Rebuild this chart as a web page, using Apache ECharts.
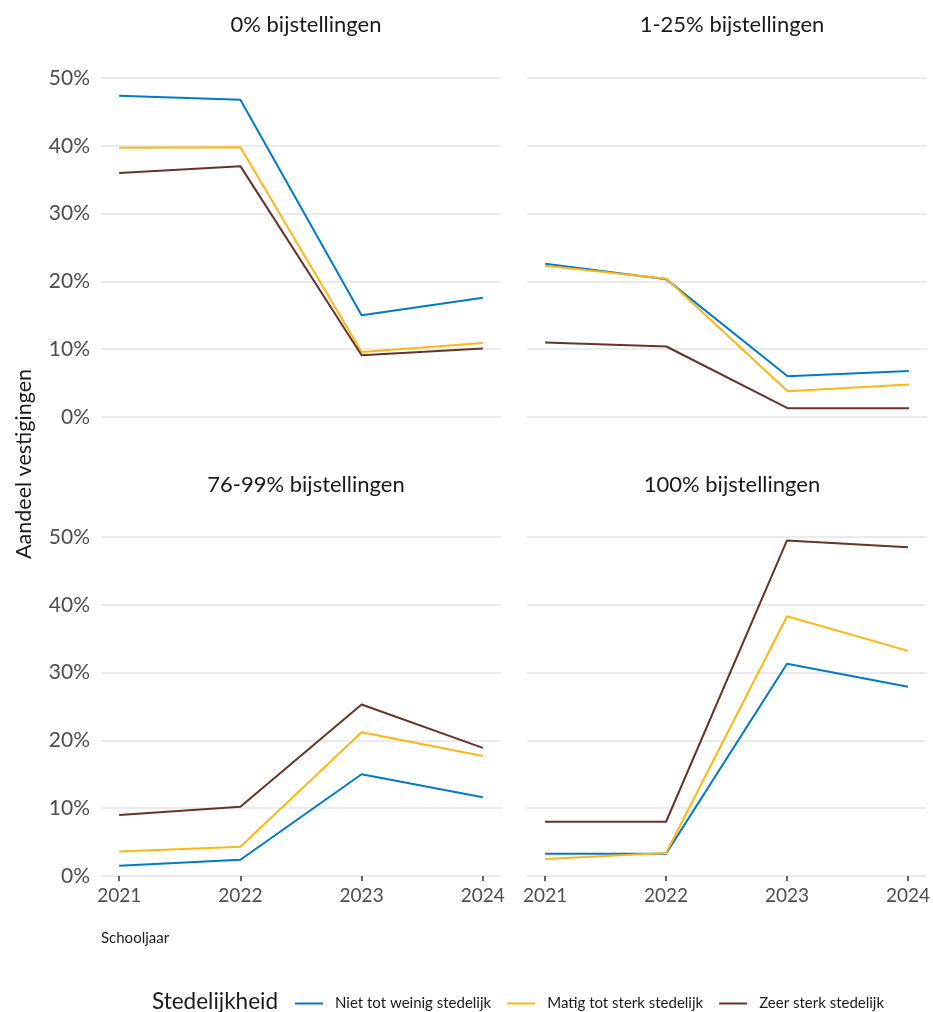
<!DOCTYPE html>
<html>
<head>
<meta charset="utf-8">
<script src="https://cdn.jsdelivr.net/npm/echarts@6/dist/echarts.min.js"></script>
<style>
  html, body { margin: 0; padding: 0; background: #fff; }
  #main { width: 933px; height: 1012px; }
</style>
</head>
<body>
<div id="main"></div>
<script>
var years = [2021, 2022, 2023, 2024];
var panels = ['0% bijstellingen', '1-25% bijstellingen', '76-99% bijstellingen', '100% bijstellingen'];
var groups = ['Niet tot weinig stedelijk', 'Matig tot sterk stedelijk', 'Zeer sterk stedelijk'];
var colors = ['#007bc7', '#ffb612', '#673327'];

// percentages per panel, per group
var niet = [
    [47.4, 46.8, 15.0, 17.6],
    [22.6, 20.3, 6.0, 6.8],
    [1.5, 2.4, 15.0, 11.6],
    [3.3, 3.3, 31.3, 27.9]
];
var matig = [
    [39.7, 39.8, 9.6, 10.9],
    [22.3, 20.4, 3.8, 4.8],
    [3.6, 4.3, 21.2, 17.7],
    [2.5, 3.4, 38.3, 33.2]
];
var zeer = [
    [36.0, 37.0, 9.1, 10.1],
    [11.0, 10.4, 1.3, 1.3],
    [9.0, 10.2, 25.3, 18.9],
    [8.0, 8.0, 49.5, 48.5]
];
var yTicks = [0, 10, 20, 30, 40, 50];

var fontName = 'Lato';
var gridPos = [
    {left: 101, top: 78},
    {left: 527, top: 78},
    {left: 101, top: 537},
    {left: 527, top: 537}
];

var grids = [], xAxes = [], yAxes = [], titles = [], series = [];
var allData = [niet, matig, zeer];

for (var p = 0; p < 4; p++) {
    grids.push({left: gridPos[p].left, top: gridPos[p].top, width: 400, height: 339});
    var bottomRow = p >= 2;
    xAxes.push({
        type: 'value',
        gridIndex: p,
        min: 2020.85,
        max: 2024.15,
        axisLine: {show: false},
        splitLine: {show: false},
        axisTick: {
            show: bottomRow,
            customValues: years,
            length: 5,
            lineStyle: {color: '#333', width: 1.5}
        },
        axisLabel: {
            show: bottomRow,
            customValues: years,
            color: '#4d4d4d',
            fontFamily: fontName,
            fontSize: 19,
            margin: 10,
            formatter: function (v) { return String(v); }
        }
    });
    yAxes.push({
        type: 'value',
        gridIndex: p,
        min: yTicks[0],
        max: yTicks[yTicks.length - 1],
        interval: 10,
        axisLine: {show: false},
        axisTick: {show: false},
        splitLine: {lineStyle: {color: '#ebebeb', width: 2}},
        axisLabel: {
            show: p % 2 === 0,
            color: '#4d4d4d',
            fontFamily: fontName,
            fontSize: 21,
            margin: 11,
            formatter: '{value}%'
        }
    });
    titles.push({
        text: panels[p],
        left: gridPos[p].left + 200,
        top: bottomRow ? 469 : 9,
        textAlign: 'center',
        textStyle: {color: '#1a1a1a', fontFamily: fontName, fontSize: 22, fontWeight: 'normal'}
    });
    for (var g = 0; g < 3; g++) {
        series.push({
            name: groups[g],
            type: 'line',
            xAxisIndex: p,
            yAxisIndex: p,
            symbol: 'none',
            color: colors[g],
            lineStyle: {width: 2, color: colors[g]},
            data: years.map(function (y, i) { return [y, allData[g][p][i]]; })
        });
    }
}

titles.push({
    text: 'Stedelijkheid',
    left: 147,
    top: 985,
    textStyle: {color: '#1a1a1a', fontFamily: fontName, fontSize: 22.5, fontWeight: 'normal'}
});

var myChart = echarts.init(document.getElementById('main'));
var option = {
    animation: false,
    backgroundColor: '#fff',
    title: titles,
    grid: grids,
    xAxis: xAxes,
    yAxis: yAxes,
    legend: {
        data: groups,
        left: 290,
        top: 991,
        icon: 'rect',
        itemWidth: 28,
        itemHeight: 2,
        itemGap: 16,
        textStyle: {color: '#1a1a1a', fontFamily: fontName, fontSize: 15, padding: [0, 0, 0, 7]}
    },
    graphic: [
        {
            type: 'text',
            left: 13,
            top: 369,
            rotation: Math.PI / 2,
            style: {text: 'Aandeel vestigingen', fill: '#1a1a1a', font: '21.5px ' + fontName}
        },
        {
            type: 'text',
            left: 101,
            top: 931,
            style: {text: 'Schooljaar', fill: '#1a1a1a', font: '15px ' + fontName}
        }
    ],
    series: series
};
myChart.setOption(option);
</script>
</body>
</html>
